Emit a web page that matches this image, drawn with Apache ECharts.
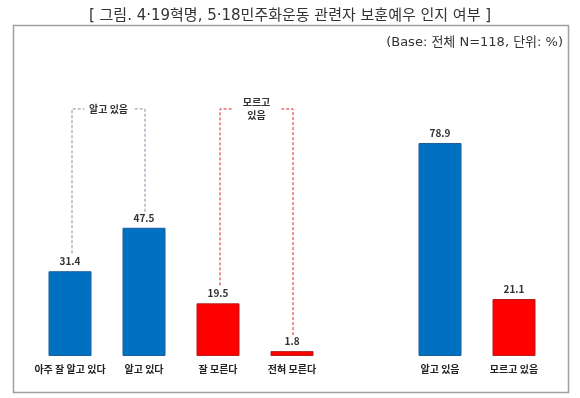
<!DOCTYPE html>
<html>
<head>
<meta charset="utf-8">
<script src="https://cdn.jsdelivr.net/npm/echarts@6/dist/echarts.min.js"></script>
<style>
  html, body { margin: 0; padding: 0; background: #fff; }
  #chart { width: 580px; height: 398px; }
</style>
</head>
<body>
<div id="chart"></div>
<script>
const categories = ['아주 잘 알고 있다', '알고 있다', '잘 모른다', '전혀 모른다', '', '알고 있음', '모르고 있음']
const knownValues = [31.4, 47.5, null, null, null, 78.9, null]
const unknownValues = [null, null, 19.5, 1.8, null, null, 21.1]

// brackets over the detail bars
const knownBracket = { from: 0, to: 1, text: '알고 있음' }
const unknownBracket = { from: 2, to: 3, text: '모르고\n있음' }
const bracketTop = 91.5

const font = '"Noto Sans CJK KR", "Noto Sans", sans-serif'
const wideFont = '"DejaVu Sans", "Noto Sans CJK KR", sans-serif'

const chart = echarts.init(document.getElementById('chart'))

const barLabel = {
    show: true,
    position: 'top',
    distance: 5,
    fontSize: 10,
    fontWeight: 'bold',
    color: '#333',
    fontFamily: font,
    formatter: (p) => p.value == null ? '' : Number(p.value).toFixed(1)
}

chart.setOption({
    animation: false,
    title: [
        {
            text: '[ 그림. 4·19혁명, 5·18민주화운동 관련자 보훈예우 인지 여부 ]',
            left: 'center',
            top: 4,
            textStyle: { fontSize: 15, fontWeight: 'normal', color: '#333', fontFamily: wideFont }
        },
        {
            text: '(Base: 전체 N=118, 단위: %)',
            right: 12,
            top: 31,
            textStyle: { fontSize: 13, fontWeight: 'normal', color: '#333', fontFamily: wideFont }
        }
    ],
    grid: { left: 33, right: 29, top: 86, bottom: 42 },
    xAxis: {
        type: 'category',
        data: categories,
        axisLine: { show: false },
        axisTick: { show: false },
        axisLabel: { margin: 8, fontSize: 10, fontWeight: 'bold', color: '#222', fontFamily: font, interval: 0 }
    },
    yAxis: {
        type: 'value',
        min: 0,
        max: 100,
        show: false
    },
    series: [
        {
            name: '알고 있음',
            type: 'bar',
            stack: 'all',
            barWidth: 43,
            data: knownValues,
            itemStyle: { color: '#0070C0', borderColor: '#1b5e9c', borderWidth: 1 },
            label: barLabel
        },
        {
            name: '모르고 있음',
            type: 'bar',
            stack: 'all',
            barWidth: 43,
            data: unknownValues,
            itemStyle: { color: '#FF0000', borderColor: '#b41a1a', borderWidth: 1 },
            label: barLabel
        }
    ]
})

function valueAt(i) {
    return knownValues[i] != null ? knownValues[i] : unknownValues[i]
}

function bracketGraphics(b, color, gap) {
    const top = chart.convertToPixel({ xAxisIndex: 0, yAxisIndex: 0 }, [b.from, bracketTop])
    const l = chart.convertToPixel({ xAxisIndex: 0, yAxisIndex: 0 }, [b.from, valueAt(b.from)])
    const r = chart.convertToPixel({ xAxisIndex: 0, yAxisIndex: 0 }, [b.to, valueAt(b.to)])
    const x1 = l[0] + 2
    const x2 = r[0] + 1
    const y = top[1]
    const mid = (x1 + x2) / 2
    const style = { stroke: color, lineWidth: 1, lineDash: [3, 2] }
    const lines = [
        [[x1, l[1] - 18], [x1, y], [mid - gap, y]],
        [[x2, r[1] - 16], [x2, y], [mid + gap, y]]
    ]
    const out = lines.map((pts) => ({
        type: 'polyline',
        shape: { points: pts },
        style: style,
        silent: true
    }))
    out.push({
        type: 'text',
        x: mid,
        y: y,
        style: {
            text: b.text,
            font: 'bold 10px ' + font,
            fill: '#333',
            align: 'center',
            verticalAlign: 'middle',
            lineHeight: 13
        },
        silent: true
    })
    return out
}

chart.setOption({
    graphic: [
        {
            type: 'rect',
            shape: { x: 13.5, y: 25.5, width: 555, height: 367 },
            style: { fill: 'none', stroke: '#a0a0a0', lineWidth: 1.5 },
            silent: true,
            z: -1
        },
        ...bracketGraphics(knownBracket, '#7f90aa', 24),
        ...bracketGraphics(unknownBracket, '#d42a2a', 25)
    ]
})
</script>
</body>
</html>
